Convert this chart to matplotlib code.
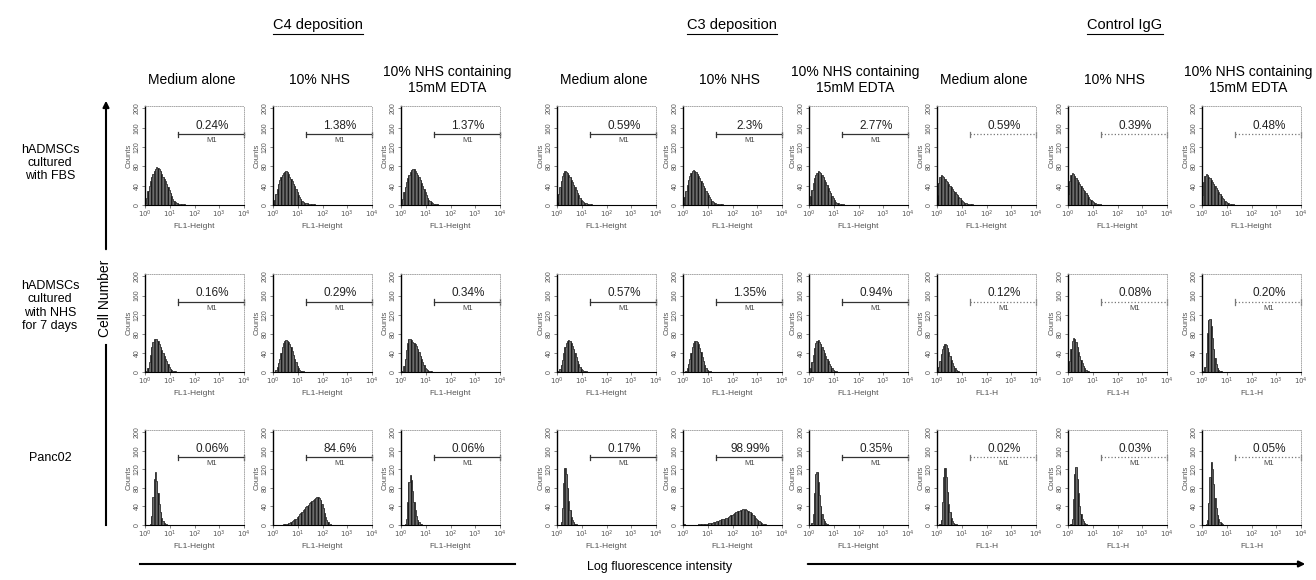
import matplotlib.pyplot as plt
from matplotlib.lines import Line2D
from matplotlib.patches import FancyArrowPatch
import numpy as np

plt.rcParams['font.family'] = ['Liberation Sans', 'DejaVu Sans']

W, H = 1316, 580

groups = ["C4 deposition", "C3 deposition", "Control IgG"]
conditions = ["Medium alone", "10% NHS", "10% NHS containing\n15mM EDTA"]
cell_rows = ["hADMSCs\ncultured\nwith FBS", "hADMSCs\ncultured\nwith NHS\nfor 7 days", "Panc02"]

pct_fbs = ["0.24%", "1.38%", "1.37%", "0.59%", "2.3%", "2.77%", "0.59%", "0.39%", "0.48%"]
pct_nhs7 = ["0.16%", "0.29%", "0.34%", "0.57%", "1.35%", "0.94%", "0.12%", "0.08%", "0.20%"]
pct_panc = ["0.06%", "84.6%", "0.06%", "0.17%", "98.99%", "0.35%", "0.02%", "0.03%", "0.05%"]

xlab_fbs = ["FL1-Height"] * 9
xlab_nhs7 = ["FL1-Height"] * 6 + ["FL1-H"] * 3
xlab_panc = ["FL1-Height"] * 6 + ["FL1-H"] * 3

# counts per channel, bins 0.05 decade wide starting at 10^0
hist_fbs = [
    [4, 14, 28, 40, 50, 58, 65, 70, 74, 78, 77, 74, 70, 64, 58, 54, 49, 44, 38, 31, 24, 18, 13, 9, 6, 5, 4, 3, 3, 2, 2, 2],
    [3, 10, 22, 34, 44, 52, 58, 63, 67, 69, 70, 68, 64, 59, 54, 49, 44, 39, 33, 27, 21, 16, 12, 9, 7, 5, 4, 4, 3, 3, 2, 2, 2, 2],
    [4, 12, 26, 38, 48, 56, 63, 68, 72, 75, 74, 70, 66, 62, 57, 52, 46, 40, 34, 27, 20, 15, 11, 8, 6, 4, 3, 3, 2, 2],
    [6, 22, 38, 50, 60, 66, 70, 69, 66, 62, 57, 52, 47, 42, 37, 31, 25, 20, 15, 11, 8, 6, 5, 4, 3, 3, 2, 2],
    [5, 16, 30, 42, 52, 60, 66, 70, 72, 71, 68, 64, 60, 55, 50, 45, 40, 35, 30, 25, 20, 16, 12, 9, 7, 5, 4, 3, 3, 2, 2, 2],
    [5, 18, 32, 45, 55, 62, 67, 70, 69, 66, 62, 57, 52, 47, 42, 36, 30, 24, 19, 14, 10, 7, 5, 4, 3, 3, 2, 2],
    [20, 45, 58, 62, 60, 57, 54, 50, 47, 44, 40, 37, 33, 30, 26, 23, 20, 17, 14, 11, 9, 7, 5, 4, 3, 3, 2, 2, 2, 1],
    [22, 50, 62, 66, 64, 60, 56, 52, 48, 44, 40, 36, 32, 28, 24, 20, 16, 13, 10, 8, 6, 5, 4, 3, 3, 2, 2],
    [20, 48, 60, 64, 62, 59, 55, 51, 47, 43, 39, 35, 31, 27, 23, 19, 15, 12, 9, 7, 5, 4, 3, 3, 2, 2],
]
hist_nhs7 = [
    [0, 2, 8, 20, 36, 52, 62, 68, 70, 68, 64, 58, 52, 46, 40, 34, 28, 22, 16, 11, 7, 4, 3, 2, 2, 1],
    [0, 1, 4, 10, 18, 28, 40, 52, 60, 64, 66, 65, 62, 58, 52, 44, 36, 28, 20, 13, 8, 5, 3, 2, 2, 1],
    [0, 3, 12, 28, 46, 60, 68, 70, 66, 62, 60, 58, 54, 48, 41, 34, 27, 20, 14, 9, 6, 4, 3, 2, 2, 1],
    [0, 2, 6, 14, 26, 40, 52, 60, 65, 66, 64, 60, 55, 48, 40, 32, 24, 17, 11, 7, 4, 3, 2, 2, 1],
    [0, 1, 3, 8, 16, 28, 40, 52, 60, 64, 65, 63, 58, 50, 41, 32, 23, 15, 9, 5, 3, 2, 2, 1],
    [2, 8, 20, 36, 50, 60, 65, 66, 63, 58, 52, 46, 40, 34, 28, 22, 17, 12, 8, 5, 3, 2, 2, 1],
    [2, 10, 24, 38, 48, 55, 58, 56, 50, 42, 34, 26, 19, 13, 8, 5, 3, 2, 1],
    [5, 24, 48, 64, 72, 70, 62, 52, 42, 33, 25, 18, 12, 8, 5, 3, 2, 1],
    [0, 2, 10, 40, 82, 108, 110, 96, 72, 48, 30, 17, 9, 5, 3, 2, 1],
]
hist_panc = [
    [0, 0, 0, 0, 2, 20, 60, 100, 115, 96, 70, 46, 28, 16, 9, 5, 3, 2, 1],
    [1, 1, 1, 1, 1, 1, 1, 1, 2, 2, 2, 3, 4, 5, 6, 8, 10, 12, 14, 17, 20, 23, 26, 29, 32, 35,
     38, 41, 44, 47, 50, 52, 55, 57, 59, 60, 60, 58, 54, 46, 36, 26, 17, 10, 6, 3, 2, 1],
    [0, 0, 0, 2, 14, 50, 92, 108, 98, 74, 50, 32, 19, 11, 6, 3, 2, 1],
    [0, 0, 1, 6, 36, 90, 124, 110, 80, 52, 32, 18, 10, 6, 3, 2, 1],
    [2, 2, 1, 1, 1, 1, 1, 1, 1, 1, 1, 1, 2, 2, 2, 2, 2, 3, 3, 3, 4, 4, 5, 5, 6, 7, 7, 8, 9, 10,
     11, 12, 13, 14, 15, 16, 18, 19, 21, 22, 24, 25, 27, 28, 30, 31, 32, 33, 34, 33, 34, 32, 31,
     29, 27, 25, 22, 19, 16, 13, 10, 8, 6, 4, 3, 2, 2, 1],
    [0, 1, 4, 24, 70, 110, 115, 92, 64, 40, 24, 14, 8, 4, 2, 1],
    [0, 0, 2, 10, 50, 104, 124, 104, 72, 46, 28, 16, 9, 5, 3, 2, 1],
    [0, 0, 2, 12, 56, 110, 126, 100, 68, 42, 24, 14, 8, 4, 2, 1],
    [0, 0, 0, 2, 10, 48, 104, 135, 120, 88, 58, 36, 22, 13, 7, 4, 2, 1],
]

rows = [(hist_fbs, pct_fbs, xlab_fbs), (hist_nhs7, pct_nhs7, xlab_nhs7), (hist_panc, pct_panc, xlab_panc)]

# panel geometry in pixels
col_left = [145, 273, 401, 557, 683, 809, 937, 1068, 1202]
panel_w = 99
row_top = [106, 274, 430]
row_bot = [205, 372, 525]

fig = plt.figure(figsize=(W / 100, H / 100), dpi=100)


def fx(px):
    return px / W


def fy(py):
    return 1 - py / H


for r, (hists, pcts, xlabs) in enumerate(rows):
    for c in range(9):
        ax = fig.add_axes([fx(col_left[c]), fy(row_bot[r]), panel_w / W, (row_bot[r] - row_top[r]) / H])
        counts = np.array(hists[c], dtype=float)
        edges = 10 ** (np.arange(len(counts) + 1) * 0.05)
        ax.stairs(counts, edges, fill=True, facecolor='#6c6c6c', edgecolor='#1a1a1a',
                  hatch='|||||', linewidth=0.5)
        ax.set_xscale('log')
        ax.set_xlim(1, 1e4)
        ax.set_ylim(0, 205)
        ax.set_xticks([1, 10, 100, 1000, 10000])
        ax.set_xticklabels([r'$10^0$', r'$10^1$', r'$10^2$', r'$10^3$', r'$10^4$'])
        ax.minorticks_off()
        ax.set_yticks([0, 40, 80, 120, 160, 200])
        ax.set_yticklabels(['0', '40', '80', '120', '160', '200'], rotation=90, va='center')
        ax.tick_params(labelsize=5, length=2, width=0.5, colors='#555', pad=1)
        ax.set_ylabel('Counts', fontsize=5.5, labelpad=1, color='#555')
        ax.set_xlabel(xlabs[c], fontsize=6, labelpad=2, color='#555')
        ax.spines['left'].set_linewidth(1.0)
        ax.spines['bottom'].set_linewidth(0.8)
        for s in ['top', 'right']:
            ax.spines[s].set_linestyle(':')
            ax.spines[s].set_color('#999')
            ax.spines[s].set_linewidth(0.6)

        # M1 gate
        ctrl = c >= 6
        ls = ':' if ctrl else '-'
        col = '#777' if ctrl else '#333'
        x0, x1 = 10 ** 1.35, 10 ** 4
        ax.plot([x0, x1], [146, 146], color=col, lw=0.9, ls=ls, clip_on=False)
        ax.plot([x0, x0], [140, 152], color=col, lw=0.9, clip_on=False)
        ax.plot([x1, x1], [140, 152], color=col, lw=0.9, clip_on=False)
        ax.text(10 ** 2.7, 152, pcts[c], ha='center', va='bottom', fontsize=8.5, color='#222')
        if not (ctrl and r == 0):
            ax.text(10 ** 2.7, 141, 'M1', ha='center', va='top', fontsize=5.5, color='#444')

# group titles, underlined
title_x = [318, 732, 1125]
title_texts = []
for g, x in zip(groups, title_x):
    title_texts.append(fig.text(fx(x), fy(25), g, ha='center', va='center', fontsize=10.5))

# condition headers
for c in range(9):
    cx = col_left[c] + panel_w / 2 - 3
    fig.text(fx(cx), fy(80), conditions[c % 3], ha='center', va='center', fontsize=10,
             linespacing=1.1)

# row labels
row_label_y = [163, 306, 458]
for lab, y in zip(cell_rows, row_label_y):
    fig.text(fx(50), fy(y), lab, ha='center', va='center', fontsize=9, linespacing=1.15)

# Cell Number axis with arrow
fig.text(fx(105), fy(298), 'Cell Number', rotation=90, ha='center', va='center', fontsize=10)
fig.add_artist(Line2D([fx(106), fx(106)], [fy(525), fy(345)], color='k', lw=1.5))
fig.patches.append(FancyArrowPatch(
    (fx(106), fy(252)), (fx(106), fy(98)), transform=fig.transFigure,
    arrowstyle='-|>', mutation_scale=9, color='k', lw=1.5))

# Log fluorescence intensity axis with arrow
fig.text(fx(660), fy(567), 'Log fluorescence intensity', ha='center', va='center', fontsize=9)
fig.add_artist(Line2D([fx(140), fx(515)], [fy(564), fy(564)], color='k', lw=1.5))
fig.patches.append(FancyArrowPatch(
    (fx(805), fy(564)), (fx(1308), fy(564)), transform=fig.transFigure,
    arrowstyle='-|>', mutation_scale=9, color='k', lw=1.5))

fig.canvas.draw()
renderer = fig.canvas.get_renderer()
for t in title_texts:
    bb = t.get_window_extent(renderer)
    y = bb.y0 - 2
    fig.add_artist(Line2D([bb.x0 / W, bb.x1 / W], [y / H, y / H], color='k', lw=0.8))

fig.savefig('out.png', dpi=100)
